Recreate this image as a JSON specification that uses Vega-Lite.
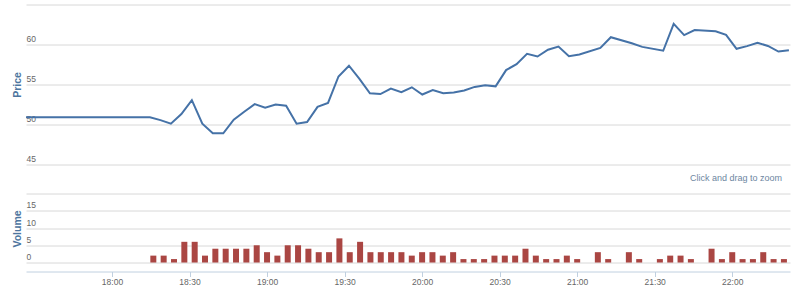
{
  "$schema": "https://vega.github.io/schema/vega-lite/v6.json",
  "padding": {"left": 12, "top": 1.5, "right": 8, "bottom": 0},
  "background": "white",
  "spacing": 9,
  "config": {
    "view": {"stroke": null},
    "font": "Liberation Sans",
    "axisY": {
      "grid": true, "gridColor": "#d8d8d8", "gridWidth": 1,
      "domain": false, "ticks": false, "tickSize": 0,
      "labelAlign": "left", "labelBaseline": "alphabetic", "labelPadding": 0, "labelOffset": -3,
      "labelColor": "#666666", "labelOverlap": false,
      "titleColor": "#4d759e", "titleFontWeight": "bold", "titleFontSize": 10.5,
      "titleAngle": -90, "titleAlign": "center", "titleBaseline": "middle", "titleX": -9
    }
  },
  "data": {"values": [
    {"t": "2020-01-01T17:28:00", "price": 50.9, "volume": null},
    {"t": "2020-01-01T18:16:00", "price": 50.9, "volume": 2},
    {"t": "2020-01-01T18:20:00", "price": 50.55, "volume": 2},
    {"t": "2020-01-01T18:24:00", "price": 50.1, "volume": 1},
    {"t": "2020-01-01T18:28:00", "price": 51.3, "volume": 6},
    {"t": "2020-01-01T18:32:00", "price": 53.05, "volume": 6},
    {"t": "2020-01-01T18:36:00", "price": 50.1, "volume": 2},
    {"t": "2020-01-01T18:40:00", "price": 48.9, "volume": 4},
    {"t": "2020-01-01T18:44:00", "price": 48.9, "volume": 4},
    {"t": "2020-01-01T18:48:00", "price": 50.6, "volume": 4},
    {"t": "2020-01-01T18:52:00", "price": 51.6, "volume": 4},
    {"t": "2020-01-01T18:56:00", "price": 52.55, "volume": 5},
    {"t": "2020-01-01T19:00:00", "price": 52.1, "volume": 3},
    {"t": "2020-01-01T19:04:00", "price": 52.5, "volume": 2},
    {"t": "2020-01-01T19:08:00", "price": 52.35, "volume": 5},
    {"t": "2020-01-01T19:12:00", "price": 50.1, "volume": 5},
    {"t": "2020-01-01T19:16:00", "price": 50.3, "volume": 4},
    {"t": "2020-01-01T19:20:00", "price": 52.2, "volume": 3},
    {"t": "2020-01-01T19:24:00", "price": 52.7, "volume": 3},
    {"t": "2020-01-01T19:28:00", "price": 56.0, "volume": 7},
    {"t": "2020-01-01T19:32:00", "price": 57.35, "volume": 3},
    {"t": "2020-01-01T19:36:00", "price": 55.7, "volume": 6},
    {"t": "2020-01-01T19:40:00", "price": 53.9, "volume": 3},
    {"t": "2020-01-01T19:44:00", "price": 53.8, "volume": 3},
    {"t": "2020-01-01T19:48:00", "price": 54.5, "volume": 3},
    {"t": "2020-01-01T19:52:00", "price": 54.05, "volume": 3},
    {"t": "2020-01-01T19:56:00", "price": 54.65, "volume": 2},
    {"t": "2020-01-01T20:00:00", "price": 53.75, "volume": 3},
    {"t": "2020-01-01T20:04:00", "price": 54.3, "volume": 3},
    {"t": "2020-01-01T20:08:00", "price": 53.9, "volume": 2},
    {"t": "2020-01-01T20:12:00", "price": 54.0, "volume": 3},
    {"t": "2020-01-01T20:16:00", "price": 54.25, "volume": 1},
    {"t": "2020-01-01T20:20:00", "price": 54.7, "volume": 1},
    {"t": "2020-01-01T20:24:00", "price": 54.92, "volume": 1},
    {"t": "2020-01-01T20:28:00", "price": 54.77, "volume": 2},
    {"t": "2020-01-01T20:32:00", "price": 56.8, "volume": 2},
    {"t": "2020-01-01T20:36:00", "price": 57.55, "volume": 2},
    {"t": "2020-01-01T20:40:00", "price": 58.83, "volume": 4},
    {"t": "2020-01-01T20:44:00", "price": 58.5, "volume": 2},
    {"t": "2020-01-01T20:48:00", "price": 59.35, "volume": 1},
    {"t": "2020-01-01T20:52:00", "price": 59.75, "volume": 1},
    {"t": "2020-01-01T20:56:00", "price": 58.54, "volume": 2},
    {"t": "2020-01-01T21:00:00", "price": 58.75, "volume": 1},
    {"t": "2020-01-01T21:08:00", "price": 59.58, "volume": 3},
    {"t": "2020-01-01T21:12:00", "price": 60.91, "volume": 1},
    {"t": "2020-01-01T21:20:00", "price": 60.15, "volume": 3},
    {"t": "2020-01-01T21:24:00", "price": 59.7, "volume": 1},
    {"t": "2020-01-01T21:32:00", "price": 59.22, "volume": 1},
    {"t": "2020-01-01T21:36:00", "price": 62.58, "volume": 2},
    {"t": "2020-01-01T21:40:00", "price": 61.18, "volume": 2},
    {"t": "2020-01-01T21:44:00", "price": 61.8, "volume": 1},
    {"t": "2020-01-01T21:52:00", "price": 61.66, "volume": 4},
    {"t": "2020-01-01T21:56:00", "price": 61.2, "volume": 1},
    {"t": "2020-01-01T22:00:00", "price": 59.46, "volume": 3},
    {"t": "2020-01-01T22:04:00", "price": 59.8, "volume": 1},
    {"t": "2020-01-01T22:08:00", "price": 60.22, "volume": 1},
    {"t": "2020-01-01T22:12:00", "price": 59.82, "volume": 3},
    {"t": "2020-01-01T22:16:00", "price": 59.12, "volume": 1},
    {"t": "2020-01-01T22:20:00", "price": 59.29, "volume": 1}
  ]},
  "resolve": {"scale": {"x": "independent", "y": "independent"}},
  "vconcat": [
    {
      "width": 764,
      "height": 160,
      "mark": {"type": "line", "color": "#4572A7", "strokeWidth": 2, "clip": true},
      "encoding": {
        "x": {
          "field": "t", "type": "temporal",
          "scale": {"domain": [
            {"year": 2020, "month": 1, "date": 1, "hours": 17, "minutes": 28, "seconds": 40},
            {"year": 2020, "month": 1, "date": 1, "hours": 22, "minutes": 20, "seconds": 25}
          ]},
          "axis": null
        },
        "y": {
          "field": "price", "type": "quantitative",
          "scale": {"domain": [45, 65], "nice": false, "zero": false},
          "axis": {"title": "Price", "values": [45, 50, 55, 60, 65],
                   "labelFontSize": {"condition": {"test": "datum.value >= 65", "value": 0}, "value": 8.5},
                   "titleY": 80}
        }
      }
    },
    {
      "width": 764,
      "height": 78,
      "title": {"text": "Click and drag to zoom", "anchor": "end", "frame": "group",
                "fontSize": 9, "fontWeight": "normal", "color": "#6D869F",
                "font": "Liberation Sans", "offset": 1, "dx": -8, "baseline": "alphabetic"},
      "mark": {"type": "bar", "color": "#AA4643", "width": 6},
      "encoding": {
        "x": {
          "field": "t", "type": "temporal",
          "scale": {"domain": [
            {"year": 2020, "month": 1, "date": 1, "hours": 17, "minutes": 28, "seconds": 40},
            {"year": 2020, "month": 1, "date": 1, "hours": 22, "minutes": 20, "seconds": 25}
          ]},
          "axis": {
            "title": null, "format": "%H:%M", "grid": false,
            "values": [
              {"year": 2020, "month": 1, "date": 1, "hours": 18, "minutes": 0},
              {"year": 2020, "month": 1, "date": 1, "hours": 18, "minutes": 30},
              {"year": 2020, "month": 1, "date": 1, "hours": 19, "minutes": 0},
              {"year": 2020, "month": 1, "date": 1, "hours": 19, "minutes": 30},
              {"year": 2020, "month": 1, "date": 1, "hours": 20, "minutes": 0},
              {"year": 2020, "month": 1, "date": 1, "hours": 20, "minutes": 30},
              {"year": 2020, "month": 1, "date": 1, "hours": 21, "minutes": 0},
              {"year": 2020, "month": 1, "date": 1, "hours": 21, "minutes": 30},
              {"year": 2020, "month": 1, "date": 1, "hours": 22, "minutes": 0}
            ],
            "domainColor": "#C0D0E0", "tickColor": "#C0D0E0", "tickSize": 5,
            "labelColor": "#666666", "labelFontSize": 8.5, "labelPadding": 1, "labelFlush": false
          }
        },
        "y": {
          "field": "volume", "type": "quantitative",
          "scale": {"domain": [-2.6, 20], "nice": false, "zero": false},
          "axis": {"title": "Volume", "values": [0, 5, 10, 15, 20],
                   "labelFontSize": {"condition": {"test": "datum.value >= 20", "value": 0}, "value": 8.5},
                   "titleY": 35}
        }
      }
    }
  ]
}
